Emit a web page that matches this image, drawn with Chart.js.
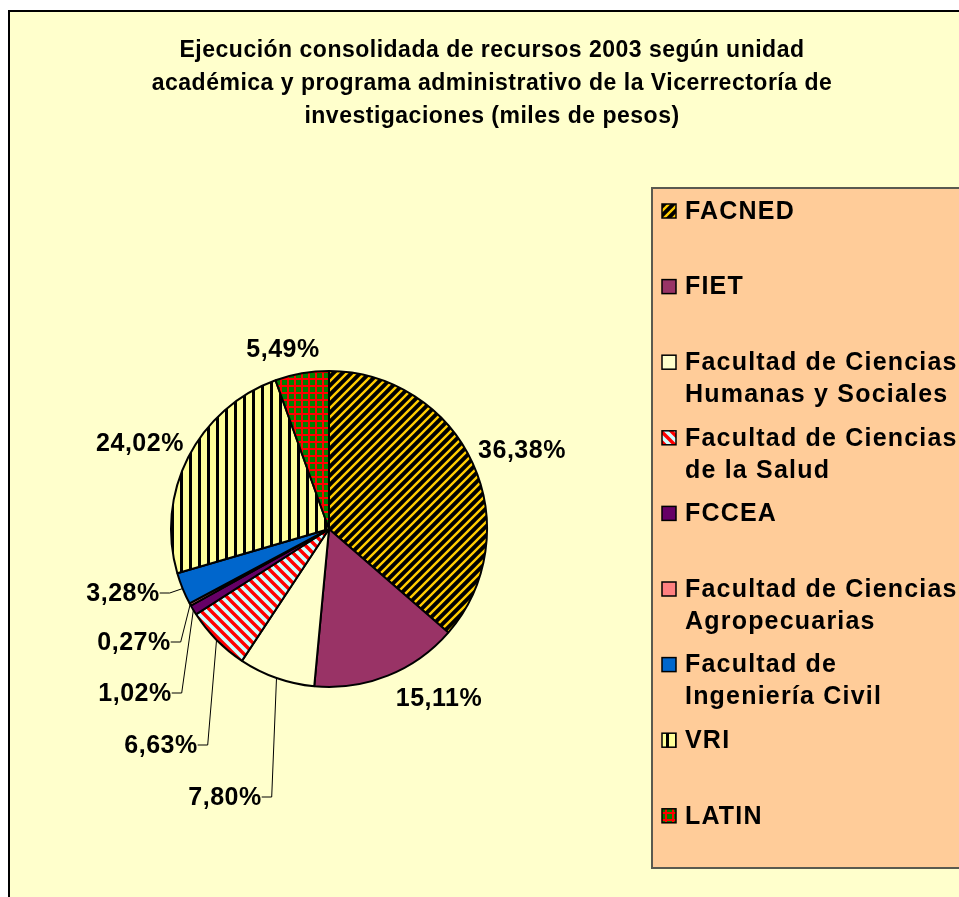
<!DOCTYPE html>
<html>
<head>
<meta charset="utf-8">
<title>Ejecución consolidada de recursos 2003</title>
<script src="https://cdn.jsdelivr.net/npm/chart.js@4"></script>
<style>
  html, body { margin: 0; padding: 0; background: #fff; overflow: hidden; }
  #wrap { position: relative; width: 959px; height: 897px; }
</style>
</head>
<body>
<div id="wrap"><canvas id="pie" width="959" height="897"></canvas></div>
<script>
// Data
const titleLines = [
    'Ejecución consolidada de recursos 2003 según unidad',
    'académica y programa administrativo de la Vicerrectoría de',
    'investigaciones (miles de pesos)'
];
const units = ['FACNED', 'FIET', 'Facultad de Ciencias Humanas y Sociales', 'Facultad de Ciencias de la Salud',
    'FCCEA', 'Facultad de Ciencias Agropecuarias', 'Facultad de Ingeniería Civil', 'VRI', 'LATIN'];
const legendLines = [
    ['FACNED'],
    ['FIET'],
    ['Facultad de Ciencias', 'Humanas y Sociales'],
    ['Facultad de Ciencias', 'de la Salud'],
    ['FCCEA'],
    ['Facultad de Ciencias', 'Agropecuarias'],
    ['Facultad de', 'Ingeniería Civil'],
    ['VRI'],
    ['LATIN']
];
const shares = [36.38, 15.11, 7.80, 6.63, 1.02, 0.27, 3.28, 24.02, 5.49];

// Fill patterns like the old Excel ones
function makeTile(size, paint) {
    const c = document.createElement('canvas');
    c.width = size;
    c.height = size;
    paint(c.getContext('2d'), size);
    return document.getElementById('pie').getContext('2d').createPattern(c, 'repeat');
}

function diagonal(bg, fg, size, width, rising) {
    return makeTile(size, (g, p) => {
        g.fillStyle = bg;
        g.fillRect(0, 0, p, p);
        g.strokeStyle = fg;
        g.lineWidth = width;
        g.beginPath();
        if (rising) {
            g.moveTo(-p, p); g.lineTo(p, -p);
            g.moveTo(0, 2 * p); g.lineTo(2 * p, 0);
            g.moveTo(0, p); g.lineTo(p, 0);
        } else {
            g.moveTo(-p, 0); g.lineTo(p, 2 * p);
            g.moveTo(0, -p); g.lineTo(2 * p, p);
            g.moveTo(0, 0); g.lineTo(p, p);
        }
        g.stroke();
    });
}

const facnedFill = diagonal('#000000', '#FFCC00', 9, 2.4, true);
const saludFill = diagonal('#CCFFFF', '#FF0000', 10, 3.4, false);
const vriFill = makeTile(9, (g, p) => {
    g.fillStyle = '#FFFF99';
    g.fillRect(0, 0, p, p);
    g.fillStyle = '#000000';
    g.fillRect(0, 0, 3, p);
});
const latinFill = makeTile(7, (g, p) => {
    g.fillStyle = '#008000';
    g.fillRect(0, 0, p, p);
    g.fillStyle = '#FF0000';
    g.fillRect(0, 0, 2, p);
    g.fillRect(0, 0, p, 2);
});

const sliceFills = [facnedFill, '#993366', '#FFFFCC', saludFill, '#660066', '#FF8080', '#0066CC', vriFill, latinFill];

// label centres relative to the pie centre, and which ones get a leader line
const labelSpots = [
    { dx: 193, dy: -79 },
    { dx: 110, dy: 169 },
    { dx: -104, dy: 268, leader: true },
    { dx: -168, dy: 216, leader: true },
    { dx: -194, dy: 164, leader: true },
    { dx: -195, dy: 113, leader: true },
    { dx: -206, dy: 64, leader: true },
    { dx: -189, dy: -86 },
    { dx: -46, dy: -180 }
];

const FONT = '"Liberation Sans", Arial, sans-serif';

const decorations = {
    id: 'decorations',
    beforeDraw(chart) {
        const ctx = chart.ctx;
        const w = chart.width, h = chart.height;
        ctx.save();
        ctx.fillStyle = '#ffffff';
        ctx.fillRect(0, 0, w, h);
        ctx.fillStyle = '#FFFFCC';
        ctx.fillRect(8, 10, w, h);
        ctx.strokeStyle = '#000';
        ctx.lineWidth = 2;
        ctx.beginPath();
        ctx.moveTo(9, h);
        ctx.lineTo(9, 11);
        ctx.lineTo(w, 11);
        ctx.stroke();

        // title
        ctx.fillStyle = '#000';
        ctx.font = 'bold 23px ' + FONT;
        ctx.letterSpacing = '0.5px';
        ctx.textAlign = 'center';
        ctx.textBaseline = 'alphabetic';
        titleLines.forEach((line, i) => ctx.fillText(line, 492, 57 + i * 33));

        // legend box
        ctx.fillStyle = '#FFCC99';
        ctx.fillRect(651, 187, w, 681);
        ctx.strokeStyle = '#5a5a50';
        ctx.lineWidth = 2;
        ctx.beginPath();
        ctx.moveTo(w, 868);
        ctx.lineTo(652, 868);
        ctx.lineTo(652, 188);
        ctx.lineTo(w, 188);
        ctx.stroke();

        ctx.font = 'bold 25px ' + FONT;
        ctx.letterSpacing = '1.2px';
        ctx.textAlign = 'left';
        ctx.textBaseline = 'middle';
        legendLines.forEach((lines, i) => {
            const y0 = 211 + i * 75.6;
            ctx.fillStyle = sliceFills[i];
            ctx.fillRect(662, y0 - 7, 14, 14);
            ctx.strokeStyle = '#000';
            ctx.lineWidth = 1.5;
            ctx.strokeRect(662, y0 - 7, 14, 14);
            ctx.fillStyle = '#000';
            lines.forEach((t, k) => ctx.fillText(t, 685, y0 + 1 + k * 32));
        });
        ctx.restore();
    },
    afterDatasetsDraw(chart) {
        const ctx = chart.ctx;
        const meta = chart.getDatasetMeta(0);
        ctx.save();
        ctx.font = 'bold 25px ' + FONT;
        ctx.letterSpacing = '0.5px';
        ctx.textAlign = 'center';
        ctx.textBaseline = 'middle';
        meta.data.forEach((arc, i) => {
            const p = arc.getProps(['x', 'y', 'startAngle', 'endAngle', 'outerRadius'], true);
            const spot = labelSpots[i];
            const text = shares[i].toFixed(2).replace('.', ',') + '%';
            const lx = p.x + spot.dx, ly = p.y + spot.dy;
            if (spot.leader) {
                const mid = (p.startAngle + p.endAngle) / 2;
                const ex = p.x + Math.cos(mid) * p.outerRadius;
                const ey = p.y + Math.sin(mid) * p.outerRadius;
                const right = lx + ctx.measureText(text).width / 2;
                ctx.strokeStyle = '#000';
                ctx.lineWidth = 1;
                ctx.beginPath();
                ctx.moveTo(right, ly);
                ctx.lineTo(right + 10, ly);
                ctx.lineTo(ex, ey);
                ctx.stroke();
            }
            ctx.fillStyle = '#000';
            ctx.fillText(text, lx, ly + 1);
        });
        ctx.restore();
    }
};

new Chart(document.getElementById('pie'), {
    type: 'pie',
    data: {
        labels: units,
        datasets: [{
            data: shares,
            backgroundColor: sliceFills,
            borderColor: '#000000',
            borderWidth: 2,
            hoverBorderWidth: 2
        }]
    },
    options: {
        responsive: false,
        animation: false,
        events: [],
        layout: { padding: { left: 170, right: 471, top: 370, bottom: 209 } },
        plugins: {
            legend: { display: false },
            title: { display: false },
            tooltip: { enabled: false }
        }
    },
    plugins: [decorations]
});
</script>
</body>
</html>
